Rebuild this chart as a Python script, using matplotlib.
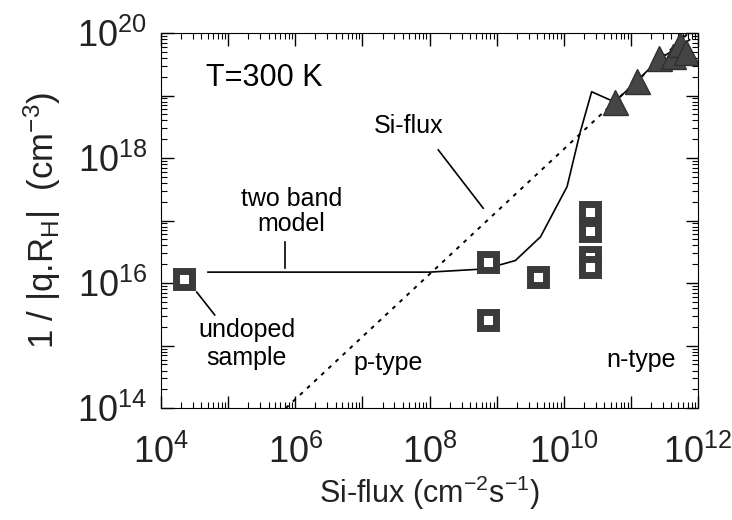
import numpy as np
from matplotlib import pyplot as plt
from matplotlib import font_manager
from matplotlib.ticker import LogLocator, FuncFormatter, NullFormatter

# Data
undoped_x = [2.2e4]
undoped_y = [1.15e16]

square_x = [7.5e8, 7.5e8, 4.2e9, 2.5e10, 2.5e10, 2.5e10, 2.5e10]
square_y = [2.2e16, 2.6e15, 1.25e16, 1.37e17, 6.8e16, 2.6e16, 1.8e16]

tri_x = [5.7e10, 1.23e11, 2.6e11, 4.3e11, 5.4e11, 6.6e11]
tri_y = [7.9e18, 1.7e19, 4.0e19, 4.3e19, 6.6e19, 5.0e19]

# two band model curve
model_x = [5e4, 1e8, 5.1e8, 1.2e9, 1.9e9, 4.5e9, 1.12e10, 1.74e10, 2.6e10,
           5.7e10, 1.23e11, 2.6e11, 5.4e11, 7.5e11]
model_y = [1.5e16, 1.5e16, 1.66e16, 2e16, 2.3e16, 5.5e16, 3.5e17, 2.5e18, 1.15e19,
           7.9e18, 1.7e19, 3.8e19, 6.2e19, 7.8e19]

# Si-flux reference line
flux_x = [7.2e5, 7.2e11]
flux_y = [1e14, 1e20]

plt.rcParams.update({"font.family": "Liberation Sans", "mathtext.default": "regular"})
installed = {f.name for f in font_manager.fontManager.ttflist}
narrow = 'Liberation Sans Narrow' if 'Liberation Sans Narrow' in installed else 'Liberation Sans'

fig = plt.figure(figsize=(7.32, 5.2), dpi=100)
ax = fig.add_axes([0.22, 0.215, 0.7336, 0.7215])

ax.plot(flux_x, flux_y, color='black', lw=1.4, linestyle=(0, (2, 3)))
ax.plot(model_x, model_y, color='black', lw=1.2)

mk = dict(linestyle='none', marker='s', markersize=11.5, markeredgewidth=5,
          markerfacecolor='white', markeredgecolor='#3a3a3a')
ax.plot(undoped_x, undoped_y, **mk)
ax.plot(square_x, square_y, **mk)
ax.plot(tri_x, tri_y, linestyle='none', marker='^', markersize=18,
        markerfacecolor='#454545', markeredgecolor='#303030', markeredgewidth=1)

ax.set_xscale('log')
ax.set_yscale('log')
ax.set_xlim(1e4, 1e12)
ax.set_ylim(1e14, 1e20)


def even_decade(v, pos):
    e = int(round(np.log10(v)))
    return r'$10^{%d}$' % e if e % 2 == 0 else ''


for axis in (ax.xaxis, ax.yaxis):
    axis.set_major_locator(LogLocator(base=10, numticks=20))
    axis.set_major_formatter(FuncFormatter(even_decade))
    axis.set_minor_locator(LogLocator(base=10, subs=np.arange(2, 10), numticks=20))
    axis.set_minor_formatter(NullFormatter())

ax.tick_params(which='both', direction='in', top=True, right=True, labelsize=26,
               labelfontfamily=narrow, labelcolor='#222222')
ax.tick_params(which='major', length=9, width=1)
ax.tick_params(which='minor', length=4.5, width=0.8)
ax.tick_params(axis='x', pad=19)
ax.tick_params(axis='y', pad=10)

ax.set_xlabel(r'Si-flux (cm$^{-2}$s$^{-1}$)', fontsize=22, labelpad=2, color='#222222')
ax.set_ylabel(r'1 / |q.R$_H$|  (cm$^{-3}$)', fontsize=25, labelpad=10, color='#222222')

# annotations
ax.text(3.5e5, 1.9e19, 'T=300 K', fontsize=22, ha='center', va='center')
ax.text(4.8e7, 3.2e18, 'Si-flux', fontsize=18, ha='center', va='center')
ax.plot([1.35e8, 6.3e8], [1.35e18, 1.58e17], color='black', lw=1.2)
ax.text(8.8e5, 1.4e17, 'two band\nmodel', fontsize=18, ha='center', va='center',
        linespacing=1.05)
ax.plot([7.1e5, 7.1e5], [4.6e16, 1.74e16], color='black', lw=1.2)
ax.text(1.9e5, 1.05e15, 'undoped\nsample', fontsize=18, ha='center', va='center',
        linespacing=1.2)
ax.plot([3.4e4, 6.3e4], [7.2e15, 3.1e15], color='black', lw=1.2)
ax.text(2.4e7, 5.2e14, 'p-type', fontsize=18, ha='center', va='center')
ax.text(1.4e11, 5.9e14, 'n-type', fontsize=18, ha='center', va='center')

fig.savefig('out.png', dpi=100)
